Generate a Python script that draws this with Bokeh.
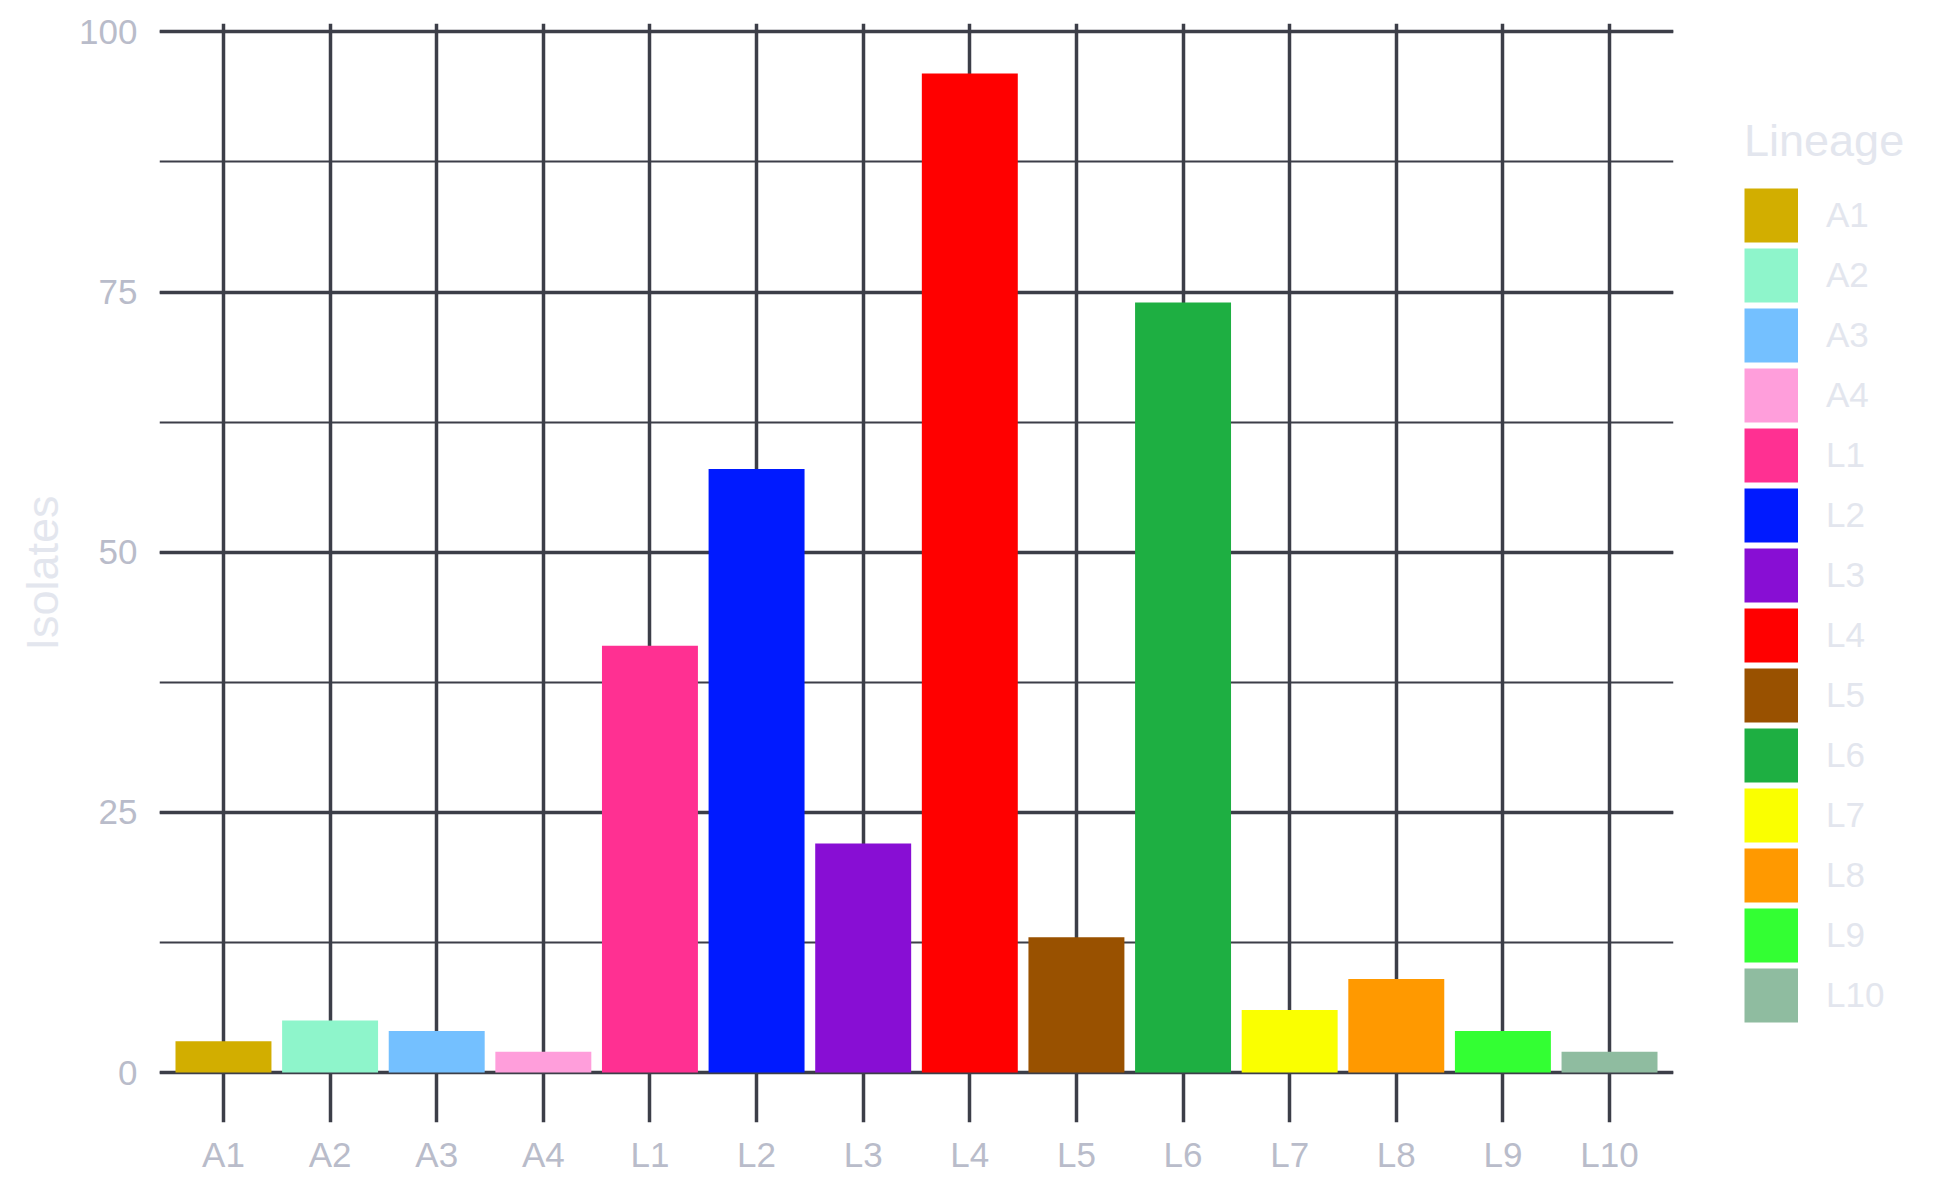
from bokeh.plotting import figure
from bokeh.models import (FactorRange, Range1d, SingleIntervalTicker, Legend,
                          LegendItem, ColumnDataSource)
from bokeh.embed import file_html
from bokeh.resources import INLINE

lineages = ["A1", "A2", "A3", "A4", "L1", "L2", "L3", "L4", "L5", "L6",
            "L7", "L8", "L9", "L10"]
isolates = [3, 5, 4, 2, 41, 58, 22, 96, 13, 74, 6, 9, 4, 2]
colors = ["#D2AE00", "#8EF5CB", "#74C0FF", "#FF9EDB", "#FF3092", "#001AFF",
          "#880ED4", "#FF0000", "#995100", "#1EAF42", "#FAFF00", "#FF9900",
          "#33FF33", "#8FBCA0"]
y_ticks_interval = 25

FONT = "Liberation Sans"
TICK_COL = "#B9BCCA"
LIGHT_COL = "#E3E6EE"
GRID_COL = "#3C3E48"

src = ColumnDataSource(dict(x=lineages, top=isolates, color=colors))
# legend key proxy: one (empty) thick line per lineage, drawn only in the legend
key_src = ColumnDataSource(dict(xs=[[] for _ in lineages],
                                ys=[[] for _ in lineages],
                                color=colors))

p = figure(x_range=FactorRange(*lineages, range_padding=0.1,
                               range_padding_units="absolute"),
           y_range=Range1d(-4.8, 100.8),
           frame_width=1514, frame_height=1099,
           min_border_left=159, min_border_top=23, min_border_bottom=70,
           min_border_right=261,
           output_backend="svg", toolbar_location=None)

r = p.vbar(x="x", top="top", bottom=0, width=0.9, fill_color="color",
           line_color=None, source=src)
keys = p.multi_line(xs="xs", ys="ys", line_color="color", line_width=54,
                    line_cap="butt", source=key_src)

ticker = SingleIntervalTicker(interval=y_ticks_interval, num_minor_ticks=2)
p.yaxis.ticker = ticker
p.ygrid.ticker = ticker

p.outline_line_color = None
p.background_fill_color = "white"
p.border_fill_color = "white"

p.ygrid.grid_line_color = GRID_COL
p.ygrid.grid_line_width = 3.5
p.ygrid.minor_grid_line_color = GRID_COL
p.ygrid.minor_grid_line_width = 1.8
p.xgrid.grid_line_color = GRID_COL
p.xgrid.grid_line_width = 3.5

for ax in (p.xaxis[0], p.yaxis[0]):
    ax.axis_line_color = None
    ax.major_tick_line_color = None
    ax.minor_tick_line_color = None
    ax.major_tick_out = 0
    ax.minor_tick_out = 0
    ax.major_label_text_font = FONT
    ax.major_label_text_font_size = "35px"
    ax.major_label_text_color = TICK_COL

p.xaxis.major_label_standoff = 12
p.yaxis.major_label_standoff = 22
p.yaxis.axis_label = "Isolates"
p.yaxis.axis_label_text_font = FONT
p.yaxis.axis_label_text_font_size = "45px"
p.yaxis.axis_label_text_font_style = "normal"
p.yaxis.axis_label_text_color = LIGHT_COL
p.yaxis.axis_label_standoff = 8

items = [LegendItem(label=l, renderers=[keys], index=i)
         for i, l in enumerate(lineages)]
legend = Legend(items=items, title="Lineage", location=(71, 97),
                orientation="vertical",
                glyph_width=54, glyph_height=60, label_height=20,
                spacing=0, label_standoff=28,
                label_text_font=FONT, label_text_font_size="35px",
                label_text_color=LIGHT_COL,
                title_text_font=FONT, title_text_font_size="45px",
                title_text_font_style="normal", title_text_color=LIGHT_COL,
                title_standoff=18,
                padding=0, margin=0, border_line_color=None,
                background_fill_alpha=0)
p.add_layout(legend, "right")

open("out.html", "w").write(file_html(p, INLINE))
